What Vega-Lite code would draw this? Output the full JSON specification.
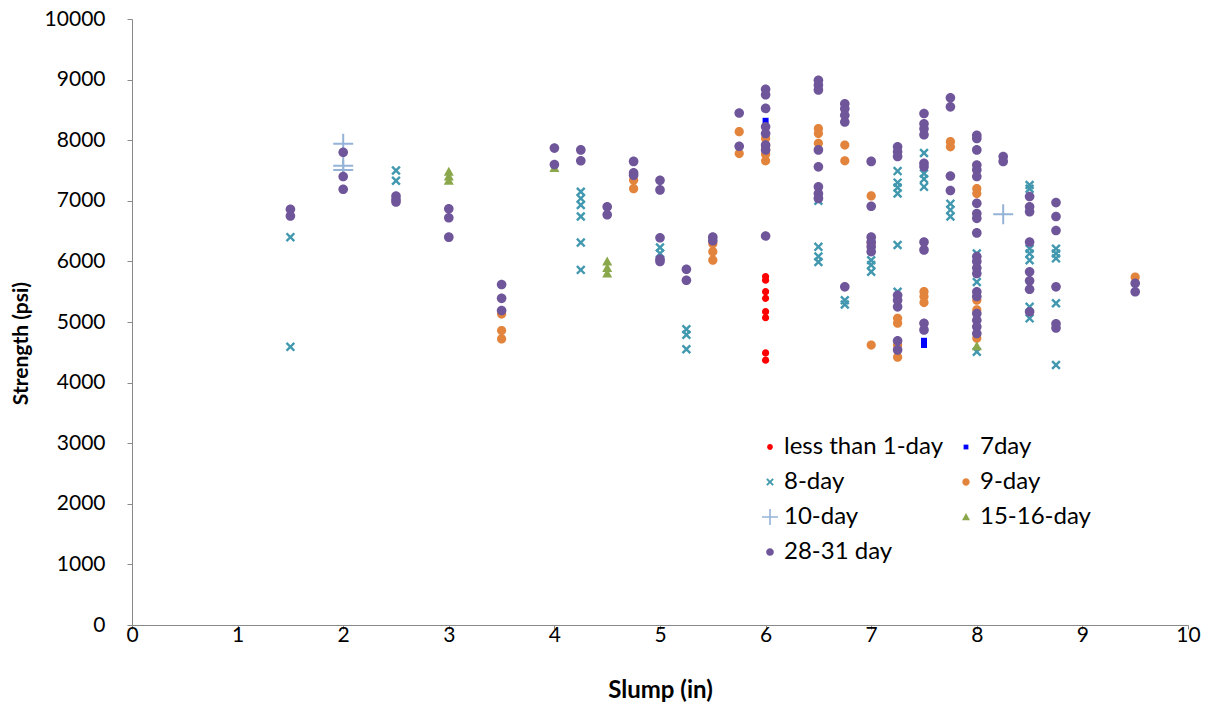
{
  "$schema": "https://vega.github.io/schema/vega-lite/v6.json",
  "width": 1056,
  "height": 606,
  "autosize": "none",
  "padding": {"left": 132, "top": 19, "right": 23, "bottom": 81},
  "background": "#ffffff",
  "config": {
    "view": {"stroke": null},
    "font": "Lato",
    "axis": {"labelFont": "Lato", "titleFont": "Lato", "labelColor": "#000000", "titleColor": "#000000", "domainColor": "#898989", "tickColor": "#898989", "grid": false}
  },
  "datasets": {
    "slump": [
      {"slump": 6, "strength": 5750, "age": "less than 1-day"},
      {"slump": 6, "strength": 5690, "age": "less than 1-day"},
      {"slump": 6, "strength": 5500, "age": "less than 1-day"},
      {"slump": 6, "strength": 5390, "age": "less than 1-day"},
      {"slump": 6, "strength": 5170, "age": "less than 1-day"},
      {"slump": 6, "strength": 5070, "age": "less than 1-day"},
      {"slump": 6, "strength": 4490, "age": "less than 1-day"},
      {"slump": 6, "strength": 4370, "age": "less than 1-day"},

      {"slump": 6, "strength": 8320, "age": "7day"},
      {"slump": 7.5, "strength": 4690, "age": "7day"},
      {"slump": 7.5, "strength": 4620, "age": "7day"},

      {"slump": 1.5, "strength": 6400, "age": "8-day"},
      {"slump": 1.5, "strength": 4590, "age": "8-day"},
      {"slump": 2.5, "strength": 7500, "age": "8-day"},
      {"slump": 2.5, "strength": 7330, "age": "8-day"},
      {"slump": 4.25, "strength": 7150, "age": "8-day"},
      {"slump": 4.25, "strength": 7040, "age": "8-day"},
      {"slump": 4.25, "strength": 6930, "age": "8-day"},
      {"slump": 4.25, "strength": 6740, "age": "8-day"},
      {"slump": 4.25, "strength": 6310, "age": "8-day"},
      {"slump": 4.25, "strength": 5860, "age": "8-day"},
      {"slump": 5, "strength": 6230, "age": "8-day"},
      {"slump": 5, "strength": 6130, "age": "8-day"},
      {"slump": 5.25, "strength": 4880, "age": "8-day"},
      {"slump": 5.25, "strength": 4790, "age": "8-day"},
      {"slump": 5.25, "strength": 4550, "age": "8-day"},
      {"slump": 6.5, "strength": 7000, "age": "8-day"},
      {"slump": 6.5, "strength": 6240, "age": "8-day"},
      {"slump": 6.5, "strength": 6080, "age": "8-day"},
      {"slump": 6.5, "strength": 5990, "age": "8-day"},
      {"slump": 6.75, "strength": 5360, "age": "8-day"},
      {"slump": 6.75, "strength": 5290, "age": "8-day"},
      {"slump": 7, "strength": 6020, "age": "8-day"},
      {"slump": 7, "strength": 5940, "age": "8-day"},
      {"slump": 7, "strength": 5830, "age": "8-day"},
      {"slump": 7.25, "strength": 7490, "age": "8-day"},
      {"slump": 7.25, "strength": 7300, "age": "8-day"},
      {"slump": 7.25, "strength": 7220, "age": "8-day"},
      {"slump": 7.25, "strength": 7120, "age": "8-day"},
      {"slump": 7.25, "strength": 6270, "age": "8-day"},
      {"slump": 7.25, "strength": 5500, "age": "8-day"},
      {"slump": 7.5, "strength": 7790, "age": "8-day"},
      {"slump": 7.5, "strength": 7450, "age": "8-day"},
      {"slump": 7.5, "strength": 7360, "age": "8-day"},
      {"slump": 7.5, "strength": 7230, "age": "8-day"},
      {"slump": 7.75, "strength": 6950, "age": "8-day"},
      {"slump": 7.75, "strength": 6850, "age": "8-day"},
      {"slump": 7.75, "strength": 6740, "age": "8-day"},
      {"slump": 8, "strength": 6130, "age": "8-day"},
      {"slump": 8, "strength": 5660, "age": "8-day"},
      {"slump": 8, "strength": 4510, "age": "8-day"},
      {"slump": 8.5, "strength": 7260, "age": "8-day"},
      {"slump": 8.5, "strength": 7200, "age": "8-day"},
      {"slump": 8.5, "strength": 6210, "age": "8-day"},
      {"slump": 8.5, "strength": 6130, "age": "8-day"},
      {"slump": 8.5, "strength": 6020, "age": "8-day"},
      {"slump": 8.5, "strength": 5250, "age": "8-day"},
      {"slump": 8.5, "strength": 5060, "age": "8-day"},
      {"slump": 8.75, "strength": 6210, "age": "8-day"},
      {"slump": 8.75, "strength": 6130, "age": "8-day"},
      {"slump": 8.75, "strength": 6050, "age": "8-day"},
      {"slump": 8.75, "strength": 5310, "age": "8-day"},
      {"slump": 8.75, "strength": 4290, "age": "8-day"},

      {"slump": 3.5, "strength": 5130, "age": "9-day"},
      {"slump": 3.5, "strength": 4860, "age": "9-day"},
      {"slump": 3.5, "strength": 4720, "age": "9-day"},
      {"slump": 4.75, "strength": 7340, "age": "9-day"},
      {"slump": 4.75, "strength": 7200, "age": "9-day"},
      {"slump": 5.5, "strength": 6290, "age": "9-day"},
      {"slump": 5.5, "strength": 6160, "age": "9-day"},
      {"slump": 5.5, "strength": 6020, "age": "9-day"},
      {"slump": 5.75, "strength": 8140, "age": "9-day"},
      {"slump": 5.75, "strength": 7780, "age": "9-day"},
      {"slump": 6, "strength": 8030, "age": "9-day"},
      {"slump": 6, "strength": 7900, "age": "9-day"},
      {"slump": 6, "strength": 7770, "age": "9-day"},
      {"slump": 6, "strength": 7660, "age": "9-day"},
      {"slump": 6.5, "strength": 8190, "age": "9-day"},
      {"slump": 6.5, "strength": 8110, "age": "9-day"},
      {"slump": 6.5, "strength": 7950, "age": "9-day"},
      {"slump": 6.75, "strength": 7920, "age": "9-day"},
      {"slump": 6.75, "strength": 7660, "age": "9-day"},
      {"slump": 7, "strength": 7080, "age": "9-day"},
      {"slump": 7, "strength": 6300, "age": "9-day"},
      {"slump": 7, "strength": 4620, "age": "9-day"},
      {"slump": 7.25, "strength": 5060, "age": "9-day"},
      {"slump": 7.25, "strength": 4980, "age": "9-day"},
      {"slump": 7.25, "strength": 4620, "age": "9-day"},
      {"slump": 7.25, "strength": 4420, "age": "9-day"},
      {"slump": 7.5, "strength": 5500, "age": "9-day"},
      {"slump": 7.5, "strength": 5420, "age": "9-day"},
      {"slump": 7.5, "strength": 5320, "age": "9-day"},
      {"slump": 7.75, "strength": 7975, "age": "9-day"},
      {"slump": 7.75, "strength": 7890, "age": "9-day"},
      {"slump": 8, "strength": 7200, "age": "9-day"},
      {"slump": 8, "strength": 7120, "age": "9-day"},
      {"slump": 8, "strength": 5360, "age": "9-day"},
      {"slump": 8, "strength": 5200, "age": "9-day"},
      {"slump": 8, "strength": 4730, "age": "9-day"},
      {"slump": 9.5, "strength": 5740, "age": "9-day"},

      {"slump": 2, "strength": 7940, "age": "10-day"},
      {"slump": 2, "strength": 7580, "age": "10-day"},
      {"slump": 2, "strength": 7510, "age": "10-day"},
      {"slump": 8.25, "strength": 6780, "age": "10-day"},

      {"slump": 3, "strength": 7480, "age": "15-16-day"},
      {"slump": 3, "strength": 7400, "age": "15-16-day"},
      {"slump": 3, "strength": 7330, "age": "15-16-day"},
      {"slump": 4, "strength": 7540, "age": "15-16-day"},
      {"slump": 4.5, "strength": 6000, "age": "15-16-day"},
      {"slump": 4.5, "strength": 5890, "age": "15-16-day"},
      {"slump": 4.5, "strength": 5800, "age": "15-16-day"},
      {"slump": 8, "strength": 4600, "age": "15-16-day"},

      {"slump": 1.5, "strength": 6860, "age": "28-31 day"},
      {"slump": 1.5, "strength": 6750, "age": "28-31 day"},
      {"slump": 2, "strength": 7800, "age": "28-31 day"},
      {"slump": 2, "strength": 7400, "age": "28-31 day"},
      {"slump": 2, "strength": 7190, "age": "28-31 day"},
      {"slump": 2.5, "strength": 7080, "age": "28-31 day"},
      {"slump": 2.5, "strength": 7020, "age": "28-31 day"},
      {"slump": 2.5, "strength": 6980, "age": "28-31 day"},
      {"slump": 3, "strength": 6870, "age": "28-31 day"},
      {"slump": 3, "strength": 6720, "age": "28-31 day"},
      {"slump": 3, "strength": 6400, "age": "28-31 day"},
      {"slump": 3.5, "strength": 5620, "age": "28-31 day"},
      {"slump": 3.5, "strength": 5390, "age": "28-31 day"},
      {"slump": 3.5, "strength": 5190, "age": "28-31 day"},
      {"slump": 4, "strength": 7870, "age": "28-31 day"},
      {"slump": 4, "strength": 7600, "age": "28-31 day"},
      {"slump": 4.25, "strength": 7840, "age": "28-31 day"},
      {"slump": 4.25, "strength": 7660, "age": "28-31 day"},
      {"slump": 4.5, "strength": 6900, "age": "28-31 day"},
      {"slump": 4.5, "strength": 6770, "age": "28-31 day"},
      {"slump": 4.75, "strength": 7650, "age": "28-31 day"},
      {"slump": 4.75, "strength": 7460, "age": "28-31 day"},
      {"slump": 4.75, "strength": 7420, "age": "28-31 day"},
      {"slump": 5, "strength": 7340, "age": "28-31 day"},
      {"slump": 5, "strength": 7180, "age": "28-31 day"},
      {"slump": 5, "strength": 6390, "age": "28-31 day"},
      {"slump": 5, "strength": 6040, "age": "28-31 day"},
      {"slump": 5, "strength": 6000, "age": "28-31 day"},
      {"slump": 5.25, "strength": 5870, "age": "28-31 day"},
      {"slump": 5.25, "strength": 5690, "age": "28-31 day"},
      {"slump": 5.5, "strength": 6400, "age": "28-31 day"},
      {"slump": 5.5, "strength": 6340, "age": "28-31 day"},
      {"slump": 5.75, "strength": 8450, "age": "28-31 day"},
      {"slump": 5.75, "strength": 7900, "age": "28-31 day"},
      {"slump": 6, "strength": 8840, "age": "28-31 day"},
      {"slump": 6, "strength": 8750, "age": "28-31 day"},
      {"slump": 6, "strength": 8525, "age": "28-31 day"},
      {"slump": 6, "strength": 8220, "age": "28-31 day"},
      {"slump": 6, "strength": 8110, "age": "28-31 day"},
      {"slump": 6, "strength": 7920, "age": "28-31 day"},
      {"slump": 6, "strength": 7840, "age": "28-31 day"},
      {"slump": 6, "strength": 6420, "age": "28-31 day"},
      {"slump": 6.5, "strength": 8990, "age": "28-31 day"},
      {"slump": 6.5, "strength": 8910, "age": "28-31 day"},
      {"slump": 6.5, "strength": 8830, "age": "28-31 day"},
      {"slump": 6.5, "strength": 7840, "age": "28-31 day"},
      {"slump": 6.5, "strength": 7560, "age": "28-31 day"},
      {"slump": 6.5, "strength": 7230, "age": "28-31 day"},
      {"slump": 6.5, "strength": 7120, "age": "28-31 day"},
      {"slump": 6.5, "strength": 7040, "age": "28-31 day"},
      {"slump": 6.75, "strength": 8600, "age": "28-31 day"},
      {"slump": 6.75, "strength": 8520, "age": "28-31 day"},
      {"slump": 6.75, "strength": 8410, "age": "28-31 day"},
      {"slump": 6.75, "strength": 8300, "age": "28-31 day"},
      {"slump": 6.75, "strength": 5580, "age": "28-31 day"},
      {"slump": 7, "strength": 7650, "age": "28-31 day"},
      {"slump": 7, "strength": 6910, "age": "28-31 day"},
      {"slump": 7, "strength": 6400, "age": "28-31 day"},
      {"slump": 7, "strength": 6320, "age": "28-31 day"},
      {"slump": 7, "strength": 6240, "age": "28-31 day"},
      {"slump": 7, "strength": 6160, "age": "28-31 day"},
      {"slump": 7.25, "strength": 7890, "age": "28-31 day"},
      {"slump": 7.25, "strength": 7810, "age": "28-31 day"},
      {"slump": 7.25, "strength": 7730, "age": "28-31 day"},
      {"slump": 7.25, "strength": 5440, "age": "28-31 day"},
      {"slump": 7.25, "strength": 5360, "age": "28-31 day"},
      {"slump": 7.25, "strength": 5250, "age": "28-31 day"},
      {"slump": 7.25, "strength": 4690, "age": "28-31 day"},
      {"slump": 7.25, "strength": 4540, "age": "28-31 day"},
      {"slump": 7.5, "strength": 8440, "age": "28-31 day"},
      {"slump": 7.5, "strength": 8270, "age": "28-31 day"},
      {"slump": 7.5, "strength": 8190, "age": "28-31 day"},
      {"slump": 7.5, "strength": 8090, "age": "28-31 day"},
      {"slump": 7.5, "strength": 7620, "age": "28-31 day"},
      {"slump": 7.5, "strength": 7560, "age": "28-31 day"},
      {"slump": 7.5, "strength": 6320, "age": "28-31 day"},
      {"slump": 7.5, "strength": 6190, "age": "28-31 day"},
      {"slump": 7.5, "strength": 4980, "age": "28-31 day"},
      {"slump": 7.5, "strength": 4870, "age": "28-31 day"},
      {"slump": 7.75, "strength": 8700, "age": "28-31 day"},
      {"slump": 7.75, "strength": 8550, "age": "28-31 day"},
      {"slump": 7.75, "strength": 7410, "age": "28-31 day"},
      {"slump": 7.75, "strength": 7170, "age": "28-31 day"},
      {"slump": 8, "strength": 8080, "age": "28-31 day"},
      {"slump": 8, "strength": 8030, "age": "28-31 day"},
      {"slump": 8, "strength": 7840, "age": "28-31 day"},
      {"slump": 8, "strength": 7590, "age": "28-31 day"},
      {"slump": 8, "strength": 7510, "age": "28-31 day"},
      {"slump": 8, "strength": 7400, "age": "28-31 day"},
      {"slump": 8, "strength": 6960, "age": "28-31 day"},
      {"slump": 8, "strength": 6790, "age": "28-31 day"},
      {"slump": 8, "strength": 6710, "age": "28-31 day"},
      {"slump": 8, "strength": 6470, "age": "28-31 day"},
      {"slump": 8, "strength": 6080, "age": "28-31 day"},
      {"slump": 8, "strength": 6000, "age": "28-31 day"},
      {"slump": 8, "strength": 5890, "age": "28-31 day"},
      {"slump": 8, "strength": 5800, "age": "28-31 day"},
      {"slump": 8, "strength": 5500, "age": "28-31 day"},
      {"slump": 8, "strength": 5420, "age": "28-31 day"},
      {"slump": 8, "strength": 5140, "age": "28-31 day"},
      {"slump": 8, "strength": 5030, "age": "28-31 day"},
      {"slump": 8, "strength": 4920, "age": "28-31 day"},
      {"slump": 8, "strength": 4810, "age": "28-31 day"},
      {"slump": 8.25, "strength": 7730, "age": "28-31 day"},
      {"slump": 8.25, "strength": 7650, "age": "28-31 day"},
      {"slump": 8.5, "strength": 7070, "age": "28-31 day"},
      {"slump": 8.5, "strength": 6900, "age": "28-31 day"},
      {"slump": 8.5, "strength": 6820, "age": "28-31 day"},
      {"slump": 8.5, "strength": 6320, "age": "28-31 day"},
      {"slump": 8.5, "strength": 5830, "age": "28-31 day"},
      {"slump": 8.5, "strength": 5680, "age": "28-31 day"},
      {"slump": 8.5, "strength": 5540, "age": "28-31 day"},
      {"slump": 8.5, "strength": 5170, "age": "28-31 day"},
      {"slump": 8.75, "strength": 6970, "age": "28-31 day"},
      {"slump": 8.75, "strength": 6740, "age": "28-31 day"},
      {"slump": 8.75, "strength": 6510, "age": "28-31 day"},
      {"slump": 8.75, "strength": 5580, "age": "28-31 day"},
      {"slump": 8.75, "strength": 4970, "age": "28-31 day"},
      {"slump": 8.75, "strength": 4900, "age": "28-31 day"},
      {"slump": 9.5, "strength": 5640, "age": "28-31 day"},
      {"slump": 9.5, "strength": 5500, "age": "28-31 day"}
    ]
  },
  "data": {"name": "slump"},
  "mark": {"type": "point", "filled": true, "opacity": 1, "size": 400, "strokeWidth": 0},
  "encoding": {
    "x": {
      "field": "slump", "type": "quantitative", "title": "Slump (in)",
      "scale": {"domain": [0, 10], "nice": false, "zero": false},
      "axis": {"values": [0, 1, 2, 3, 4, 5, 6, 7, 8, 9, 10], "format": "d", "labelFontSize": 21, "labelPadding": -5, "tickSize": 4, "labelFlush": false,
               "titleFontSize": 24, "titleFontWeight": "bold", "titleY": 65, "titleBaseline": "middle"}
    },
    "y": {
      "field": "strength", "type": "quantitative", "title": "Strength (psi)",
      "scale": {"domain": [0, 10000], "nice": false},
      "axis": {"values": [0, 1000, 2000, 3000, 4000, 5000, 6000, 7000, 8000, 9000, 10000], "format": "d", "labelFontSize": 21, "labelPadding": 22, "tickSize": 5, "labelFlush": false,
               "titleFontSize": 21, "titleFontWeight": "bold", "titleAngle": -90, "titleX": -111, "titleY": 324, "titleAlign": "center", "titleBaseline": "middle"}
    },
    "color": {
      "field": "age", "type": "nominal", "title": null,
      "scale": {
        "domain": ["less than 1-day", "7day", "8-day", "9-day", "10-day", "15-16-day", "28-31 day"],
        "range": ["#FF0000", "#0000FF", "#4198AF", "#E3843D", "#95B3D7", "#8AA84B", "#6F5599"]
      },
      "legend": {
        "orient": "none", "legendX": 626, "legendY": 416, "columns": 2, "direction": "horizontal",
        "padding": 0, "symbolSize": 256, "symbolStrokeWidth": 0, "labelFont": "Lato", "labelFontSize": 24, "labelColor": "#000000",
        "labelOffset": 2, "columnPadding": 10, "rowPadding": 11, "labelLimit": 300
      }
    },
    "shape": {
      "field": "age", "type": "nominal", "title": null,
      "scale": {
        "domain": ["less than 1-day", "7day", "8-day", "9-day", "10-day", "15-16-day", "28-31 day"],
        "range": [
          "M0,-0.36C0.199,-0.36,0.36,-0.199,0.36,0C0.36,0.199,0.199,0.36,0,0.36C-0.199,0.36,-0.36,0.199,-0.36,0C-0.36,-0.199,-0.199,-0.36,0,-0.36Z",
          "M-0.3,-0.3L0.3,-0.3L0.3,0.3L-0.3,0.3Z",
          "M0.304,-0.474L0.474,-0.304L0.17,0L0.474,0.304L0.304,0.474L0,0.17L-0.304,0.474L-0.474,0.304L-0.17,0L-0.474,-0.304L-0.304,-0.474L0,-0.17Z",
          "M0,-0.46C0.254,-0.46,0.46,-0.254,0.46,0C0.46,0.254,0.254,0.46,0,0.46C-0.254,0.46,-0.46,0.254,-0.46,0C-0.46,-0.254,-0.254,-0.46,0,-0.46Z",
          "M-0.1,-1L0.1,-1L0.1,-0.1L1,-0.1L1,0.1L0.1,0.1L0.1,1L-0.1,1L-0.1,0.1L-1,0.1L-1,-0.1L-0.1,-0.1Z",
          "M0,-0.5L0.5,0.4L-0.5,0.4Z",
          "M0,-0.48C0.265,-0.48,0.48,-0.265,0.48,0C0.48,0.265,0.265,0.48,0,0.48C-0.265,0.48,-0.48,0.265,-0.48,0C-0.48,-0.265,-0.265,-0.48,0,-0.48Z"
        ]
      }
    }
  }
}
